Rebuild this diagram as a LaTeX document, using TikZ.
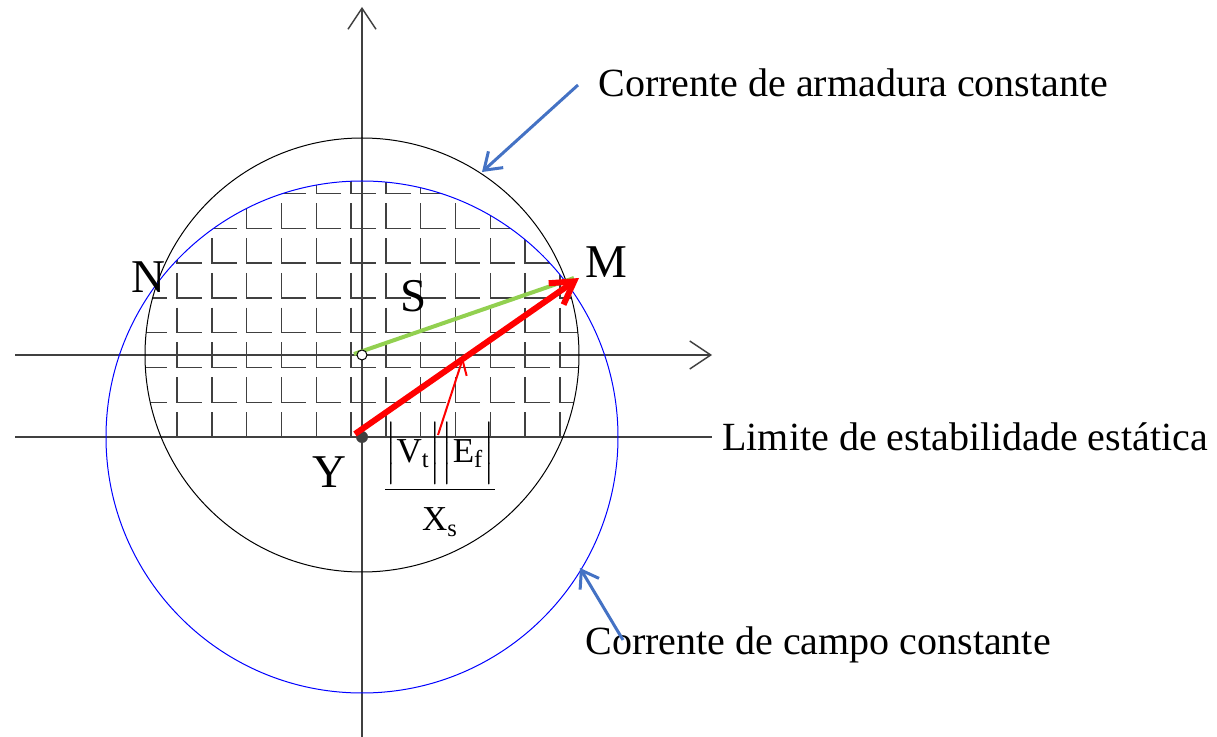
\documentclass[tikz,border=0pt]{standalone}
\usepackage{amsmath}
\usepackage{fontspec}
\setmainfont{Liberation Serif}
\usetikzlibrary{arrows.meta}
\definecolor{axisgray}{HTML}{404040}
\definecolor{callblue}{HTML}{4472C4}
\definecolor{loadgreen}{HTML}{92D050}

\begin{document}
\begin{tikzpicture}[x=0.5pt,y=-0.5pt,
  axis/.style={draw=axisgray,line width=0.7pt},
  axarrow/.style={axis,-{Straight Barb[length=10.5pt,width=14pt]}},
  callout/.style={draw=callblue,line width=1.5pt,-{Straight Barb[length=8pt,width=11pt]}},
  lbl/.style={font=\fontsize{20}{20}\selectfont,inner sep=0pt,anchor=base west},
  ptlbl/.style={font=\fontsize{23.5}{23.5}\selectfont,inner sep=0pt,anchor=base west}]
\useasboundingbox (0,0) rectangle (1217,737);
\def\r{217}
\def\R{256}
\def\u{34.8}
\coordinate (O) at (362,355);
\coordinate (Y) at (362,437);
\coordinate (vb) at (362,737);
\coordinate (vt) at (362,7);
\coordinate (hl) at (15,355);
\coordinate (hr) at (712,355);
\coordinate (ll) at (15,437);
\coordinate (lr) at (712,437);

\begin{scope}
\clip (O) circle[radius=\r];
\clip (Y) circle[radius=\R];
\clip (0,0) rectangle (1217,437);
\foreach \i in {0,...,13}
  \foreach \k in {0,...,8}
    \draw[axis] ({107.4+\u*\i},{133.7+\u*\k}) -- ({107.4+\u*\i},{158.7+\u*\k}) -- ({132.4+\u*\i},{158.7+\u*\k});
\end{scope}

\draw[axarrow] (vb) -- (vt);
\draw[axarrow] (hl) -- (hr);
\draw[axis] (ll) -- (lr);
\draw[black,line width=0.5pt] (O) circle[radius=\r];
\draw[blue,line width=0.5pt] (Y) circle[radius=\R];

\node (N) [ptlbl] at (131,293) {N};
\node (M) [ptlbl] at (585,278) {M};
\node (S) [ptlbl] at (400,312) {S};
\node (Ylbl) [ptlbl] at (312,488) {Y};

\coordinate (Mtip) at (579,278);
\coordinate (Gend) at (574,278);
\coordinate (Gstart) at (354,354);
\coordinate (Rstart) at (355,434);
\coordinate (ftail) at (438,435);
\coordinate (ftip) at (463,358);

\fill[axisgray] (Y) circle[radius=6];
\draw[loadgreen,line width=2pt] (Gstart) -- (Gend);
\draw[fill=white,line width=0.5pt] (O) circle[radius=5];
\draw[red,line width=3pt,-{Straight Barb[length=11pt,width=13pt]}] (Rstart) -- (Mtip);
\draw[red,line width=1pt,-{Straight Barb[length=7pt,width=9pt]}] (ftail) -- (ftip);

\node (frac) [font=\fontsize{17.5}{17.5}\selectfont,inner sep=0pt,anchor=base] at (440,498)
  {$\dfrac{\Bigl|\text{V}_{\text{t}}\Bigr|\Bigl|\text{E}_{\text{f}}\Bigr|}{\rule{0pt}{1.05em}\text{X}_{\text{s}}}$};

\node (arm) [lbl] at (598,97) {Corrente de armadura constante};
\node (lim) [lbl] at (722,451) {Limite de estabilidade estática};
\node (camp) [lbl] at (585,655) {Corrente de campo constante};

\coordinate (armtail) at (578,85);
\coordinate (armtip) at (482,172);
\coordinate (camptail) at (623,640);
\coordinate (camptip) at (580,568);
\draw[callout] (armtail) -- (armtip);
\draw[callout] (camptail) -- (camptip);
\end{tikzpicture}
\end{document}
